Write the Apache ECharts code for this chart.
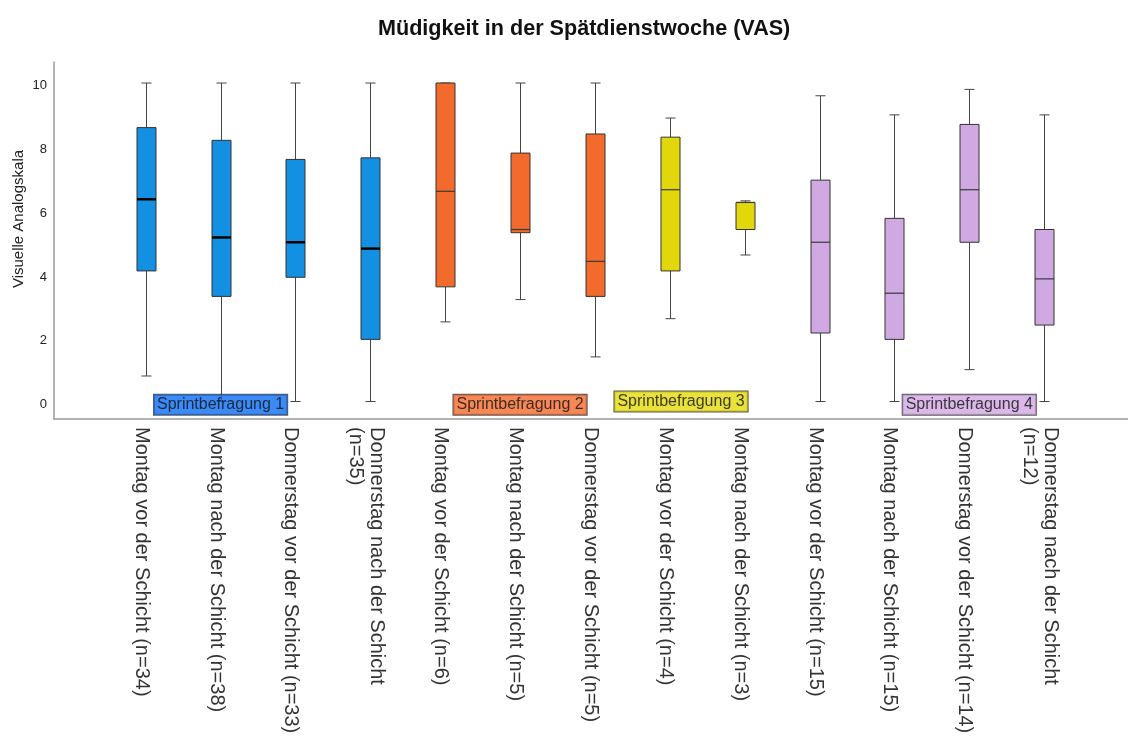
<!DOCTYPE html>
<html>
<head>
<meta charset="utf-8">
<script src="https://cdn.jsdelivr.net/npm/echarts@6/dist/echarts.min.js"></script>
<style>
  html, body { margin: 0; padding: 0; background: #fff; }
  #chart { width: 1128px; height: 743px; }
</style>
</head>
<body>
<div id="chart"></div>
<script>
// Fatigue (VAS) per measurement point, grouped by sprint survey
const categories = [
  'Montag vor der Schicht (n=34)',
  'Montag nach der Schicht (n=38)',
  'Donnerstag vor der Schicht (n=33)',
  'Donnerstag nach der Schicht\n(n=35)',
  'Montag vor der Schicht (n=6)',
  'Montag nach der Schicht (n=5)',
  'Donnerstag vor der Schicht (n=5)',
  'Montag vor der Schicht (n=4)',
  'Montag nach der Schicht (n=3)',
  'Montag vor der Schicht (n=15)',
  'Montag nach der Schicht (n=15)',
  'Donnerstag vor der Schicht (n=14)',
  'Donnerstag nach der Schicht\n(n=12)'
];
const groupOf = [0, 0, 0, 0, 1, 1, 1, 2, 2, 3, 3, 3, 3];

const minValues    = [0.8, 0.0, 0.0, 0.0, 2.5, 3.2, 1.4, 2.6, 4.6, 0.0, 0.0, 1.0, 0.0];
const q1Values     = [4.1, 3.3, 3.9, 1.95, 3.6, 5.3, 3.3, 4.1, 5.4, 2.15, 1.95, 5.0, 2.4];
const medianValues = [6.35, 5.15, 5.0, 4.8, 6.6, 5.4, 4.4, 6.65, 6.25, 5.0, 3.4, 6.65, 3.85];
const q3Values     = [8.6, 8.2, 7.6, 7.65, 10.0, 7.8, 8.4, 8.3, 6.25, 6.95, 5.75, 8.7, 5.4];
const maxValues    = [10.0, 10.0, 10.0, 10.0, 10.0, 10.0, 10.0, 8.9, 6.3, 9.6, 9.0, 9.8, 9.0];

const groupNames = ['Sprintbefragung 1', 'Sprintbefragung 2', 'Sprintbefragung 3', 'Sprintbefragung 4'];
// where each group caption sits: category position and VAS value
const groupLabelAt = [1, 5, 7.15, 11];
const groupLabelValue = [-0.1, -0.1, 0.0, -0.1];

const yTicks = [0, 2, 4, 6, 8, 10];

const FONT = '"Liberation Sans", Arial, Helvetica, sans-serif';
const boxFill = ['#1490e3', '#f26a2c', '#e1d70a', '#d0a9e3'];
const captionFill = ['#0a6df2', '#f26a2c', '#e4da0b', '#d1a8e4'];

// axis ranges; the label-only axes are nudged slightly so text sits like SPSS output
const X_RANGE = [-1.225, 13.12];
const Y_RANGE = [-0.55, 10.66];
const X_LABEL_NUDGE = 0.06;
const Y_LABEL_NUDGE = 0.09;

const boxData = categories.map((_, i) => [
  i, minValues[i], q1Values[i], medianValues[i], q3Values[i], maxValues[i]
]);

function renderBox(params, api) {
  const i = api.value(0);
  const g = groupOf[i];
  const pMin = api.coord([i, api.value(1)]);
  const pQ1 = api.coord([i, api.value(2)]);
  const pMed = api.coord([i, api.value(3)]);
  const pQ3 = api.coord([i, api.value(4)]);
  const pMax = api.coord([i, api.value(5)]);
  const cx = Math.round(pMin[0]) + 0.5;
  const hw = 9.5;   // half box width
  const cw = 5;     // half whisker cap width
  const whisker = { stroke: '#444', lineWidth: 1 };
  return {
    type: 'group',
    children: [
      { type: 'line', shape: { x1: cx, y1: pMax[1], x2: cx, y2: pQ3[1] }, style: whisker },
      { type: 'line', shape: { x1: cx, y1: pQ1[1], x2: cx, y2: pMin[1] }, style: whisker },
      { type: 'line', shape: { x1: cx - cw, y1: pMax[1], x2: cx + cw, y2: pMax[1] }, style: whisker },
      { type: 'line', shape: { x1: cx - cw, y1: pMin[1], x2: cx + cw, y2: pMin[1] }, style: whisker },
      {
        type: 'rect',
        shape: { x: cx - hw, y: pQ3[1], width: hw * 2, height: pQ1[1] - pQ3[1] },
        style: { fill: boxFill[g], stroke: '#333', lineWidth: 1 }
      },
      {
        type: 'line',
        shape: { x1: cx - hw, y1: pMed[1], x2: cx + hw, y2: pMed[1] },
        style: g === 0 ? { stroke: '#000', lineWidth: 2.5 } : { stroke: '#3a3a3a', lineWidth: 1.2 }
      }
    ]
  };
}

const chart = echarts.init(document.getElementById('chart'), null, { renderer: 'canvas' });

const axisLineStyle = { color: '#9a9a9a', width: 1.5 };

chart.setOption({
  animation: false,
  backgroundColor: '#fff',
  textStyle: { fontFamily: FONT },
  title: {
    text: 'Müdigkeit in der Spätdienstwoche (VAS)',
    left: 373,
    top: 13,
    textStyle: { fontFamily: FONT, fontSize: 21.6, fontWeight: 'bold', color: '#111' }
  },
  grid: { left: 54, right: 0, top: 62, bottom: 324, outerBoundsMode: 'none', containLabel: false },
  xAxis: [
    {
      // data axis: carries the boxes and the baseline
      type: 'value',
      min: X_RANGE[0],
      max: X_RANGE[1],
      splitLine: { show: false },
      axisTick: { show: false },
      axisLabel: { show: false },
      axisLine: { show: true, onZero: false, lineStyle: axisLineStyle }
    },
    {
      // category captions
      type: 'value',
      position: 'bottom',
      min: X_RANGE[0] + X_LABEL_NUDGE,
      max: X_RANGE[1] + X_LABEL_NUDGE,
      splitLine: { show: false },
      axisTick: { show: false },
      axisLine: { show: false },
      axisLabel: {
        customValues: categories.map((_, i) => i),
        formatter: v => categories[v] || '',
        rotate: -90,
        margin: 8,
        fontFamily: FONT,
        fontSize: 20,
        lineHeight: 21,
        color: '#333'
      }
    }
  ],
  yAxis: [
    {
      type: 'value',
      min: Y_RANGE[0],
      max: Y_RANGE[1],
      name: 'Visuelle Analogskala',
      nameLocation: 'middle',
      nameGap: 28,
      nameMoveOverlap: false,
      nameTextStyle: { fontFamily: FONT, fontSize: 15, color: '#222', padding: [0, 0, 0, 43] },
      splitLine: { show: false },
      axisTick: { show: false },
      axisLabel: { show: false },
      axisLine: { show: true, onZero: false, lineStyle: axisLineStyle }
    },
    {
      // tick values
      type: 'value',
      position: 'left',
      min: Y_RANGE[0] + Y_LABEL_NUDGE,
      max: Y_RANGE[1] + Y_LABEL_NUDGE,
      splitLine: { show: false },
      axisTick: { show: false },
      axisLine: { show: false },
      axisLabel: {
        customValues: yTicks,
        margin: 7,
        fontFamily: FONT,
        fontSize: 13,
        color: '#222'
      }
    }
  ],
  series: [
    {
      type: 'custom',
      name: 'VAS',
      xAxisIndex: 0,
      yAxisIndex: 0,
      renderItem: renderBox,
      encode: { x: 0, y: [1, 2, 3, 4, 5] },
      data: boxData,
      silent: true,
      z: 2
    },
    {
      type: 'scatter',
      xAxisIndex: 0,
      yAxisIndex: 0,
      symbolSize: 0,
      silent: true,
      z: 5,
      data: groupNames.map((name, g) => ({
        name: name,
        value: [groupLabelAt[g], groupLabelValue[g]],
        label: { backgroundColor: captionFill[g] }
      })),
      label: {
        show: true,
        position: 'inside',
        formatter: '{b}',
        fontFamily: FONT,
        fontSize: 16,
        lineHeight: 18,
        color: '#111',
        borderColor: '#333',
        borderWidth: 1,
        padding: [1, 3, 1, 3]
      }
    }
  ]
});
</script>
</body>
</html>
